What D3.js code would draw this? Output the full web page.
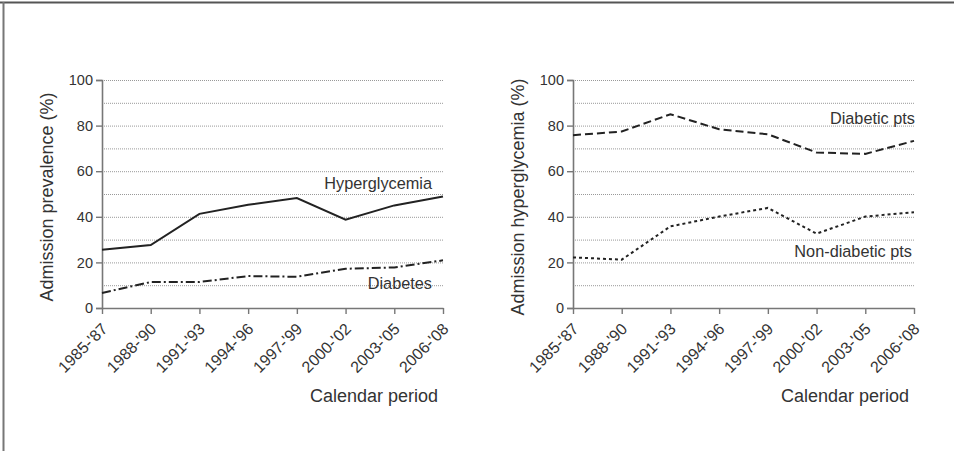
<!DOCTYPE html>
<html>
<head>
<meta charset="utf-8">
<script src="https://cdn.jsdelivr.net/npm/d3@7"></script>
<style>
  body { margin: 0; background: #fff; }
  text { font-family: Arial, "Liberation Sans", sans-serif; fill: #333; }
</style>
</head>
<body>
<div id="myVis"></div>
<script>
var w = 954;
var h = 451;

// Data
var periods = ["1985-'87", "1988-'90", "1991-'93", "1994-'96", "1997-'99", "2000-'02", "2003-'05", "2006-'08"];
var yTicks = [0, 20, 40, 60, 80, 100];
var gridValues = [10, 20, 30, 40, 50, 60, 70, 80, 90, 100];

var hyperglycemia = [25.5, 27.6, 41.3, 45.3, 48.2, 38.7, 45.0, 48.9];
var diabetes = [6.6, 11.4, 11.4, 14.0, 13.7, 17.2, 17.8, 20.9];
var diabeticPts = [75.8, 77.4, 85.0, 78.4, 76.2, 68.2, 67.6, 73.3];
var nonDiabeticPts = [22.2, 21.2, 35.8, 40.1, 43.9, 32.6, 40.1, 42.0];

var svg = d3.select("#myVis").append("svg")
  .attr("width", w)
  .attr("height", h);

// frame of the figure (only top and left edges show)
svg.append("line").attr("x1", 0).attr("x2", w).attr("y1", 2.5).attr("y2", 2.5)
  .attr("stroke", "#555").attr("stroke-width", 2);
svg.append("line").attr("x1", 3.5).attr("x2", 3.5).attr("y1", 2).attr("y2", h)
  .attr("stroke", "#777").attr("stroke-width", 2);

function panel(x0, x1, yTitle, series) {
  var xScale = d3.scalePoint().domain(periods).range([x0, x1]);
  var yScale = d3.scaleLinear().domain([0, 100]).range([308, 80]);
  var g = svg.append("g");

  // dotted grid
  g.selectAll(".grid").data(gridValues).enter().append("line")
    .attr("x1", x0 + 2).attr("x2", x1)
    .attr("y1", function(d) { return yScale(d) + 0.5; })
    .attr("y2", function(d) { return yScale(d) + 0.5; })
    .attr("stroke", "#999")
    .attr("stroke-width", 1)
    .attr("stroke-dasharray", "1,1");

  // y axis
  var ya = g.append("g")
    .attr("transform", "translate(" + x0 + ",0)")
    .call(d3.axisLeft(yScale).tickValues(yTicks).tickSize(6).tickPadding(3));
  ya.select(".domain").attr("stroke", "#777").attr("stroke-width", 1.6);
  ya.selectAll(".tick line").attr("stroke", "#777").attr("stroke-width", 1.4);
  ya.selectAll(".tick text").style("font-size", "14.5px").attr("fill", "#333");

  // x axis
  var xa = g.append("g")
    .attr("transform", "translate(0,308)")
    .call(d3.axisBottom(xScale).tickSize(6).tickSizeOuter(0));
  xa.select(".domain").attr("stroke", "#777").attr("stroke-width", 1.6);
  xa.selectAll(".tick line").attr("stroke", "#777").attr("stroke-width", 1.4);
  xa.selectAll(".tick text")
    .style("font-size", "16px")
    .attr("fill", "#333")
    .attr("text-anchor", "end")
    .attr("x", 0).attr("y", 0)
    .attr("dy", "0.35em")
    .attr("transform", "translate(2,18) rotate(-45)");

  // y title
  g.append("text")
    .attr("transform", "translate(" + (x0 - 49) + ",197) rotate(-90)")
    .attr("text-anchor", "middle")
    .style("font-size", "18px")
    .text(yTitle);

  // x title
  g.append("text")
    .attr("x", x1 - 5).attr("y", 402)
    .attr("text-anchor", "end")
    .style("font-size", "18px")
    .text("Calendar period");

  var line = d3.line()
    .x(function(d, i) { return xScale(periods[i]); })
    .y(function(d) { return yScale(d); });

  series.forEach(function(s) {
    g.append("path")
      .attr("d", line(s.values))
      .attr("fill", "none")
      .attr("stroke", "#222")
      .attr("stroke-width", 2)
      .attr("stroke-dasharray", s.dash);
    g.append("text")
      .attr("x", s.lx).attr("y", s.ly)
      .attr("text-anchor", "end")
      .style("font-size", "16.3px")
      .text(s.label);
  });
}

panel(102, 443, "Admission prevalence (%)", [
  { values: hyperglycemia, dash: null, label: "Hyperglycemia", lx: 432, ly: 189 },
  { values: diabetes, dash: "9,3,2,3", label: "Diabetes", lx: 432, ly: 289 }
]);

panel(573, 914, "Admission hyperglycemia (%)", [
  { values: diabeticPts, dash: "8,4", label: "Diabetic pts", lx: 915, ly: 124 },
  { values: nonDiabeticPts, dash: "3,3", label: "Non-diabetic pts", lx: 912, ly: 257 }
]);
</script>
</body>
</html>
